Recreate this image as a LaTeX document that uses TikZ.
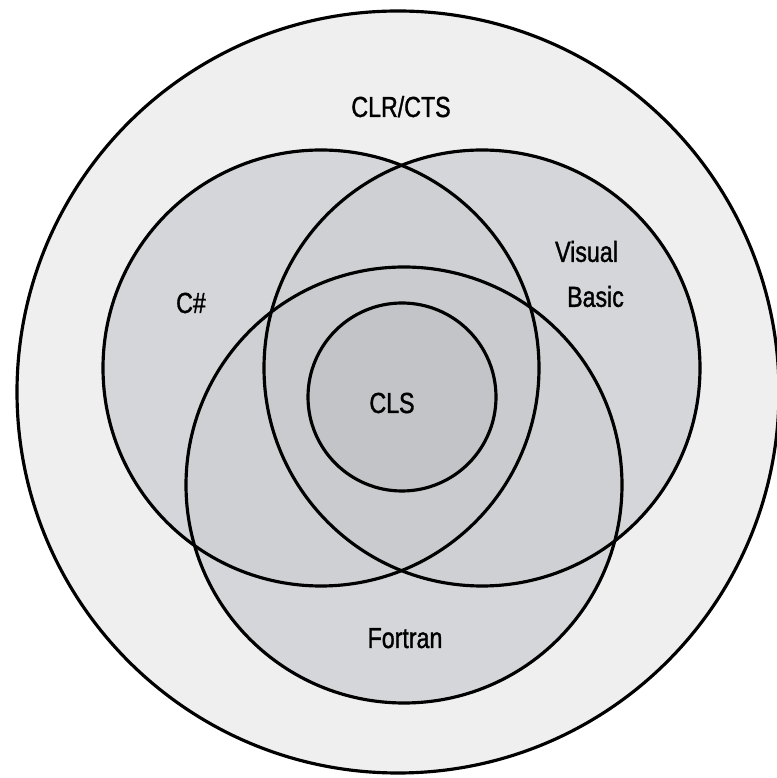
\documentclass[tikz,border=0pt]{standalone}
\usepackage{fontspec}
\setmainfont[FakeStretch=0.8,FakeBold=1.2]{Liberation Sans}
\definecolor{ctsgray}{HTML}{EFEFEF}
\definecolor{langgray}{HTML}{D5D6D9}
\definecolor{clsgray}{HTML}{C3C4C7}
\begin{document}
\begin{tikzpicture}[line width=1.8pt,
ring/.style={draw,line width=1.8pt},
ovl/.style={fill=black,fill opacity=0.025},
lbl/.style={inner sep=0pt,font=\fontsize{16.5}{25.6}\selectfont}]

\useasboundingbox (0,0) rectangle (15.54,15.56);

\coordinate (cts) at (7.96,7.72);
\coordinate (cs) at (6.42,8.20);
\coordinate (vb) at (9.64,8.20);
\coordinate (ft) at (8.08,5.86);
\coordinate (cls) at (8.04,7.62);

% fills first, outlines after
\fill[ctsgray] (cts) circle (7.62);
\fill[langgray] (cs) circle (4.36) (vb) circle (4.36) (ft) circle (4.36);
\begin{scope}
\clip (cs) circle (4.36);
\fill[ovl] (vb) circle (4.36) (ft) circle (4.36);
\end{scope}
\begin{scope}
\clip (vb) circle (4.36);
\fill[ovl] (ft) circle (4.36);
\end{scope}
\fill[clsgray] (cls) circle (1.88);

\draw[ring] (cts) circle (7.62);
\draw[ring] (cs) circle (4.36);
\draw[ring] (vb) circle (4.36);
\draw[ring] (ft) circle (4.36);
\draw[ring] (cls) circle (1.88);

\node[lbl,anchor=base] (CTSlbl) at (8.02,13.22) {CLR/CTS};
\node[lbl,anchor=base] (CSlbl) at (3.82,9.30) {C\#};
\node[lbl,align=left] (VBlbl) at (11.79,10.08) {Visual\\\hspace*{0.24cm}Basic};
\node[lbl,anchor=base] (CLSlbl) at (7.84,7.30) {CLS};
\node[lbl,anchor=base] (FTlbl) at (8.10,2.60) {Fortran};
%\node[lbl] at (8,0.5) {.NET};
\end{tikzpicture}
\end{document}
